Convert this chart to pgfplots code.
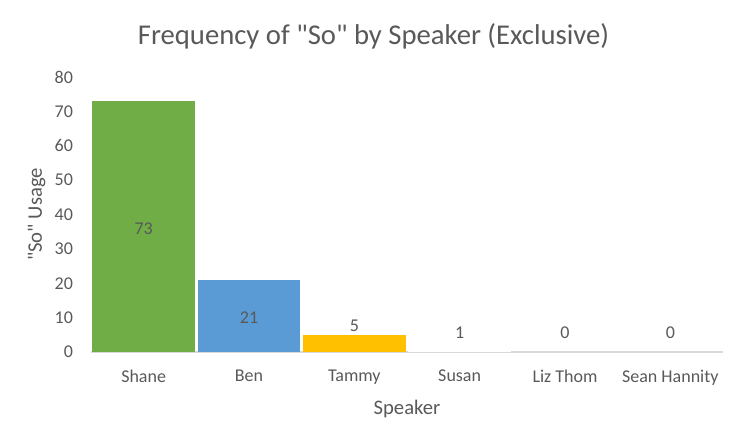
\documentclass[border=0pt]{standalone}
\usepackage{pgfplots}
\pgfplotsset{compat=1.18}
\usepackage{fontspec}
\setmainfont{Carlito}[Ligatures=TeXOff]
\definecolor{txt}{HTML}{595959}
\definecolor{cgreen}{HTML}{70AD47}
\definecolor{cblue}{HTML}{5B9BD5}
\definecolor{cgold}{HTML}{FFC000}
\definecolor{axisgray}{HTML}{D9D9D9}
\begin{document}
\begin{tikzpicture}
\path[use as bounding box] (0,0) rectangle (561pt,335.25pt);
\begin{axis}[
  at={(68.25pt,71.25pt)}, anchor=south west,
  scale only axis, width=474pt, height=206.25pt,
  xmin=-0.5, xmax=5.5, ymin=0, ymax=80,
  enlargelimits=false,
  axis x line=bottom, axis y line=left,
  separate axis lines,
  x axis line style={draw=axisgray, line width=1.1pt, -},
  y axis line style={draw=none},
  major tick length=0pt,
  xtick={0,1,2,3,4,5},
  xticklabels={Shane,Ben,Tammy,Susan,Liz Thom,Sean Hannity},
  ytick={0,10,...,80},
  /pgf/number format/assume math mode=true,
  tick label style={font=\fontsize{13.5}{15}\selectfont, text=txt},
  yticklabel style={xshift=-10pt},
  xticklabel style={yshift=-10pt},
  title={Frequency of "So" by Speaker (Exclusive)},
  title style={at={(axis description cs:0.447,1.117)}, anchor=center, font=\fontsize{21.5}{24}\selectfont, text=txt},
  xlabel={Speaker},
  xlabel style={at={(axis description cs:0.5,-0.207)}, anchor=center, font=\fontsize{15.5}{18}\selectfont, text=txt},
  ylabel={"So" Usage},
  ylabel style={at={(axis description cs:-0.086,0.5)}, anchor=center, rotate=0, font=\fontsize{15.5}{18}\selectfont, text=txt},
]
\addplot[ybar, bar width=0.975, bar shift=0pt, fill=cgreen, draw=none] coordinates {(0,73)};
\addplot[ybar, bar width=0.975, bar shift=0pt, fill=cblue, draw=none] coordinates {(1,21)};
\addplot[ybar, bar width=0.975, bar shift=0pt, fill=cgold, draw=none] coordinates {(2,5)};
\addplot[ybar, bar width=0.975, bar shift=0pt, fill=white, draw=none] coordinates {(3,1)};
\addplot[draw=none, mark=none, nodes near coords, point meta=explicit symbolic,
  nodes near coords align={center},
  every node near coord/.append style={font=\fontsize{13.5}{15}\selectfont, text=txt, anchor=center}]
  coordinates {(0,36) [73] (1,9.9) [21] (2,7.6) [5] (3,5.5) [1] (4,5.5) [0] (5,5.5) [0]};
\end{axis}
\end{tikzpicture}
\end{document}
